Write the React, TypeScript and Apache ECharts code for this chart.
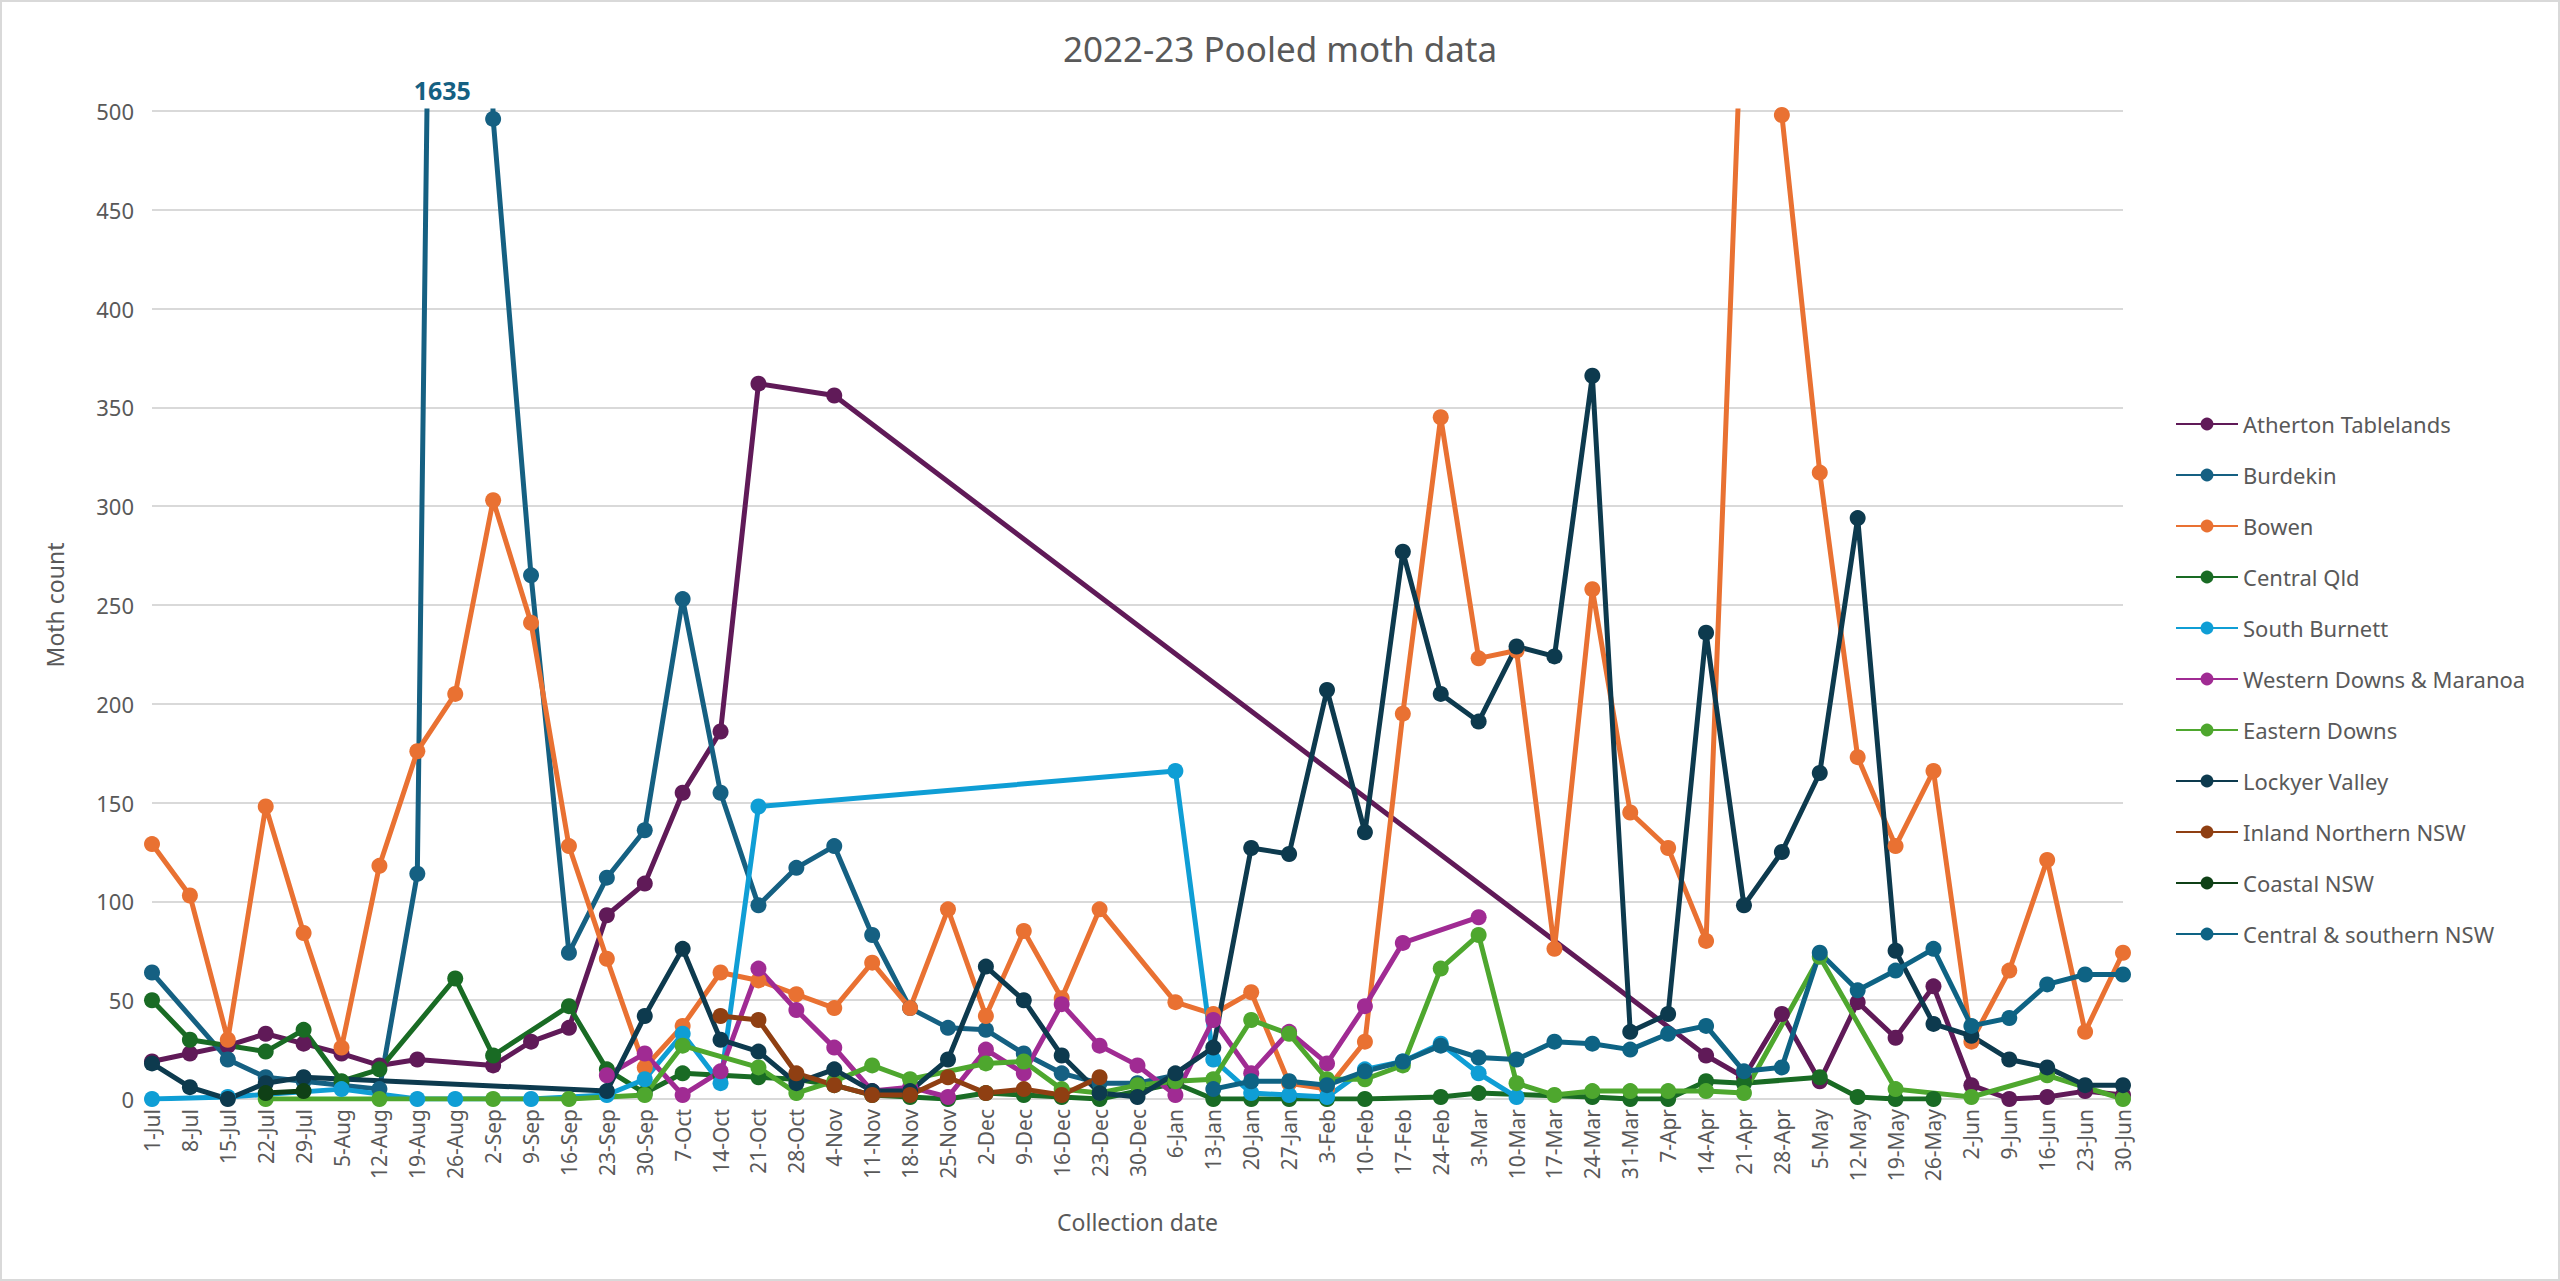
import React, { useEffect, useRef } from "react";
import * as echarts from "echarts";

const _ = null;

const categories = [
  "1-Jul", "8-Jul", "15-Jul", "22-Jul", "29-Jul", "5-Aug", "12-Aug", "19-Aug", "26-Aug", "2-Sep",
  "9-Sep", "16-Sep", "23-Sep", "30-Sep", "7-Oct", "14-Oct", "21-Oct", "28-Oct", "4-Nov", "11-Nov",
  "18-Nov", "25-Nov", "2-Dec", "9-Dec", "16-Dec", "23-Dec", "30-Dec", "6-Jan", "13-Jan", "20-Jan",
  "27-Jan", "3-Feb", "10-Feb", "17-Feb", "24-Feb", "3-Mar", "10-Mar", "17-Mar", "24-Mar", "31-Mar",
  "7-Apr", "14-Apr", "21-Apr", "28-Apr", "5-May", "12-May", "19-May", "26-May", "2-Jun", "9-Jun",
  "16-Jun", "23-Jun", "30-Jun",
];

const atherton = [
  19, 23, 27, 33, 28, 23, 17, 20, _, 17,
  29, 36, 93, 109, 155, 186, 362, _, 356, _,
  _, _, _, _, _, _, _, _, _, _,
  _, _, _, _, _, _, _, _, _, _,
  _, 22, 11, 43, 9, 49, 31, 57, 7, 0,
  1, 4, 2,
];
const burdekin = [
  64, _, 20, 11, 9, 7, 5, 114, 1635, 496,
  265, 74, 112, 136, 253, 155, 98, 117, 128, 83,
  46, 36, 35, 23, 13, 8, 8, 12, _, _,
  _, _, _, _, _, _, _, _, _, _,
  _, _, _, _, _, _, _, _, _, _,
  _, _, _,
];
const bowen = [
  129, 103, 30, 148, 84, 26, 118, 176, 205, 303,
  241, 128, 71, 16, 37, 64, 60, 53, 46, 69,
  46, 96, 42, 85, 51, 96, _, 49, 43, 54,
  8, 5, 29, 195, 345, 223, 227, 76, 258, 145,
  127, 80, 580, 498, 317, 173, 128, 166, 29, 65,
  121, 34, 74,
];
const centralQld = [
  50, 30, _, 24, 35, 9, 15, _, 61, 22,
  _, 47, 15, 3, 13, 12, 11, 10, 7, 2,
  1, 0, 3, 2, 1, 0, _, 8, 0, 0,
  0, 0, 0, _, 1, 3, _, _, 1, 0,
  0, 9, 8, _, 11, 1, 0, 0, _, _,
  _, _, _,
];
const southBurnett = [
  0, _, 1, _, _, 5, _, 0, 0, _,
  0, _, 2, 10, 33, 8, 148, _, _, _,
  _, _, _, _, _, _, _, 166, 20, 3,
  2, 1, 15, 19, 28, 13, 1, _, _, _,
  _, _, _, _, _, _, _, _, _, _,
  _, _, _,
];
const westernDowns = [
  _, _, _, _, _, _, _, _, _, _,
  _, _, 12, 23, 2, 14, 66, 45, 26, 4,
  6, 1, 25, 13, 48, 27, 17, 2, 40, 13,
  34, 18, 47, 79, _, 92, _, _, _, _,
  _, _, _, _, _, _, _, _, _, _,
  _, _, _,
];
const easternDowns = [
  _, _, _, 0, _, _, 0, _, _, 0,
  _, 0, _, 2, 27, _, 16, 3, 9, 17,
  10, _, 18, 19, 5, 3, 7, 9, 10, 40,
  33, 10, 10, 17, 66, 83, 8, 2, 4, 4,
  4, 4, 3, _, 72, _, 5, _, 1, _,
  12, _, 0,
];
const lockyerValley = [
  18, 6, 0, 8, 11, _, _, _, _, _,
  _, _, 4, 42, 76, 30, 24, 8, 15, 4,
  4, 20, 67, 50, 22, 3, 1, 13, 26, 127,
  124, 207, 135, 277, 205, 191, 229, 224, 366, 34,
  43, 236, 98, 125, 165, 294, 75, 38, 32, 20,
  16, 7, 7,
];
const inlandNorthernNSW = [
  _, _, _, _, _, _, _, _, _, _,
  _, _, _, _, _, 42, 40, 13, 7, 2,
  2, 11, 3, 5, 2, 11, _, _, _, _,
  _, _, _, _, _, _, _, _, _, _,
  _, _, _, _, _, _, _, _, _, _,
  _, _, _,
];
const coastalNSW = [
  _, _, _, 3, 4, _, _, _, _, _,
  _, _, _, _, _, _, _, _, _, _,
  _, _, _, _, _, _, _, _, _, _,
  _, _, _, _, _, _, _, _, _, _,
  _, _, _, _, _, _, _, _, _, _,
  _, _, _,
];
const centralSouthernNSW = [
  _, _, _, _, _, _, _, _, _, _,
  _, _, _, _, _, _, _, _, _, _,
  _, _, _, _, _, _, _, _, 5, 9,
  9, 7, 14, 19, 27, 21, 20, 29, 28, 25,
  33, 37, 14, 16, 74, 55, 65, 76, 37, 41,
  58, 63, 63,
];

const seriesNames = [
  "Atherton Tablelands",
  "Burdekin",
  "Bowen",
  "Central Qld",
  "South Burnett",
  "Western Downs & Maranoa",
  "Eastern Downs",
  "Lockyer Valley",
  "Inland Northern NSW",
  "Coastal NSW",
  "Central & southern NSW",
];
const seriesData = [
  atherton,
  burdekin,
  bowen,
  centralQld,
  southBurnett,
  westernDowns,
  easternDowns,
  lockyerValley,
  inlandNorthernNSW,
  coastalNSW,
  centralSouthernNSW,
];
const seriesColors = [
  "#601A58",
  "#156082",
  "#E97132",
  "#196B24",
  "#0F9ED5",
  "#A02B93",
  "#4EA72E",
  "#0D3A4E",
  "#8F3F12",
  "#0F4016",
  "#0E6384",
];

const peakIndex = 8; // 26-Aug Burdekin value beyond axis max

export default function App() {
  const ref = useRef<HTMLDivElement>(null);

  useEffect(() => {
    document.body.style.margin = "0";
    const chart = echarts.init(ref.current as HTMLDivElement, null, { renderer: "svg" });
    const FONT = "'Noto Sans', 'Open Sans', sans-serif";
    const TXT = "#595959";

    const series = seriesData.map((d, i) => {
      const s: any = {
        name: seriesNames[i],
        type: "line",
        data: d,
        connectNulls: true,
        symbol: "circle",
        symbolSize: 16,
        showAllSymbol: true,
        clip: true,
        lineStyle: { width: 5, color: seriesColors[i] },
        itemStyle: { color: seriesColors[i] },
        emphasis: { disabled: true },
      };
      if (i === 1) {
        s.markPoint = {
          symbol: "circle",
          symbolSize: 1,
          itemStyle: { color: "rgba(0,0,0,0)" },
          label: {
            show: true,
            position: "top",
            formatter: "{c}",
            color: seriesColors[1],
            fontSize: 25,
            fontWeight: "bold",
            fontFamily: FONT,
            offset: [-13, -3],
          },
          data: [{ coord: [categories[peakIndex], 500], value: burdekin[peakIndex] }],
        };
      }
      return s;
    });

    chart.setOption({
      animation: false,
      backgroundColor: "#ffffff",
      textStyle: { fontFamily: FONT },
      title: {
        text: "2022-23 Pooled moth data",
        left: "center",
        top: 26,
        textStyle: { fontSize: 35, fontWeight: "normal", color: TXT, fontFamily: FONT },
      },
      legend: {
        orient: "vertical",
        left: 2170,
        top: 408,
        itemWidth: 62,
        itemHeight: 16,
        itemGap: 29,
        data: seriesNames,
        textStyle: { fontSize: 22, color: TXT, fontFamily: FONT },
      },
      grid: { left: 152, right: 437, top: 111, bottom: 182, outerBoundsMode: "none" },
      xAxis: {
        type: "category",
        data: categories,
        boundaryGap: false,
        axisLine: { lineStyle: { color: "#d9d9d9", width: 2 } },
        axisTick: { show: false },
        axisLabel: { rotate: 90, interval: 0, fontSize: 21, color: TXT, margin: 10, fontFamily: FONT },
        splitLine: { show: false },
        name: "Collection date",
        nameLocation: "middle",
        nameGap: 111,
        nameTextStyle: { fontSize: 23, color: TXT, fontFamily: FONT },
      },
      yAxis: {
        type: "value",
        min: 0,
        max: 500,
        interval: 50,
        axisLine: { show: false },
        axisTick: { show: false },
        axisLabel: { fontSize: 22, color: TXT, margin: 18, fontFamily: FONT },
        splitLine: { lineStyle: { color: "#d9d9d9", width: 2 } },
        name: "Moth count",
        nameLocation: "middle",
        nameGap: 86,
        nameTextStyle: { fontSize: 23, color: TXT, fontFamily: FONT },
      },
      graphic: [
        {
          type: "rect",
          silent: true,
          shape: { x: 1, y: 1, width: 2558, height: 1279 },
          style: { fill: "none", stroke: "#d9d9d9", lineWidth: 2 },
        },
      ],
      series,
    });

    return () => chart.dispose();
  }, []);

  return (
    <div
      ref={ref}
      style={{ position: "fixed", left: 0, top: 0, width: 2560, height: 1281 }}
    />
  );
}
